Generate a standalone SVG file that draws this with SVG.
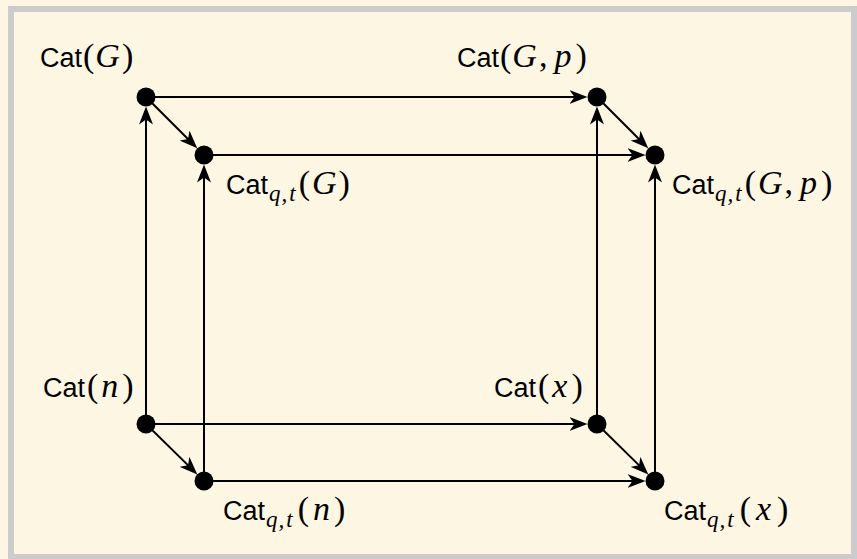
<svg xmlns="http://www.w3.org/2000/svg" width="857" height="559" viewBox="0 0 857 559">
  <style>
    .edge { stroke: #000; stroke-width: 2; fill: none; marker-end: url(#arr); }
    .dot { fill: #000; }
    .lbl { fill: #000; }
    .sf { font-family: "Liberation Sans", Arial, sans-serif; font-size: 27px; }
    .m { font-family: "Liberation Serif", "Times New Roman", serif; font-size: 34px; }
    .mi { font-family: "Liberation Serif", "Times New Roman", serif; font-size: 34px; font-style: italic; }
    .sub { font-family: "Liberation Serif", "Times New Roman", serif; font-size: 23px; font-style: italic; }
  </style>
  <defs>
    <marker id="arr" viewBox="-18 -7 18 14" refX="-10" refY="0" markerWidth="18" markerHeight="14" markerUnits="userSpaceOnUse" orient="auto">
      <path d="M0,0 L-18,-7 L-13,0 L-18,7 Z" fill="#000"/>
    </marker>
  </defs>
  <rect x="0" y="0" width="857" height="559" fill="#fdf6e3"/>
  <rect x="11" y="9" width="843" height="548" fill="#fdf6e3" stroke="#cccccc" stroke-width="6"/>

  <g id="connectors">
    <line class="edge" x1="146" y1="97" x2="577.5" y2="97"/>
    <line class="edge" x1="204" y1="155" x2="635.5" y2="155"/>
    <line class="edge" x1="146" y1="424" x2="577.5" y2="424"/>
    <line class="edge" x1="204" y1="481" x2="635.5" y2="481"/>
    <line class="edge" x1="146" y1="424" x2="146" y2="116.5"/>
    <line class="edge" x1="204" y1="481" x2="204" y2="174.5"/>
    <line class="edge" x1="597" y1="424" x2="597" y2="116.5"/>
    <line class="edge" x1="655" y1="481" x2="655" y2="174.5"/>
    <line class="edge" x1="146" y1="97" x2="190.2" y2="141.2"/>
    <line class="edge" x1="597" y1="97" x2="641.2" y2="141.2"/>
    <line class="edge" x1="146" y1="424" x2="190.2" y2="467.4"/>
    <line class="edge" x1="597" y1="424" x2="641.2" y2="467.4"/>
  </g>

  <g id="catG">
    <circle class="dot" cx="146" cy="97" r="9.5"/>
    <text class="lbl" x="40" y="67"><tspan class="sf">Cat</tspan><tspan class="m" dx="1">(</tspan><tspan class="mi" dx="1">G</tspan><tspan class="m" dx="2">)</tspan></text>
  </g>
  <g id="catGp">
    <circle class="dot" cx="597" cy="97" r="9.5"/>
    <text class="lbl" x="457" y="67"><tspan class="sf">Cat</tspan><tspan class="m" dx="1">(</tspan><tspan class="mi" dx="1">G</tspan><tspan class="m" dx="2">,</tspan><tspan class="mi" dx="7">p</tspan><tspan class="m" dx="4">)</tspan></text>
  </g>
  <g id="catqtG">
    <circle class="dot" cx="204" cy="155" r="9.5"/>
    <text class="lbl" x="226" y="194"><tspan class="sf">Cat</tspan><tspan class="sub" dx="1" dy="7">q</tspan><tspan class="sub" dx="1">,</tspan><tspan class="sub" dx="2">t</tspan><tspan class="m" dx="3" dy="-7">(</tspan><tspan class="mi" dx="2">G</tspan><tspan class="m" dx="2">)</tspan></text>
  </g>
  <g id="catqtGp">
    <circle class="dot" cx="655" cy="155" r="9.5"/>
    <text class="lbl" x="672" y="194"><tspan class="sf">Cat</tspan><tspan class="sub" dx="1" dy="7">q</tspan><tspan class="sub" dx="1">,</tspan><tspan class="sub" dx="2">t</tspan><tspan class="m" dx="3" dy="-7">(</tspan><tspan class="mi" dx="2">G</tspan><tspan class="m" dx="2">,</tspan><tspan class="mi" dx="7">p</tspan><tspan class="m" dx="4">)</tspan></text>
  </g>
  <g id="catn">
    <circle class="dot" cx="146" cy="424" r="9.5"/>
    <text class="lbl" x="43" y="397"><tspan class="sf">Cat</tspan><tspan class="m" dx="2">(</tspan><tspan class="mi" dx="3">n</tspan><tspan class="m" dx="4">)</tspan></text>
  </g>
  <g id="catx">
    <circle class="dot" cx="597" cy="424" r="9.5"/>
    <text class="lbl" x="494" y="397"><tspan class="sf">Cat</tspan><tspan class="m" dx="2">(</tspan><tspan class="mi" dx="3">x</tspan><tspan class="m" dx="4">)</tspan></text>
  </g>
  <g id="catqtn">
    <circle class="dot" cx="204" cy="481" r="9.5"/>
    <text class="lbl" x="223" y="520"><tspan class="sf">Cat</tspan><tspan class="sub" dx="1" dy="7">q</tspan><tspan class="sub" dx="1">,</tspan><tspan class="sub" dx="2">t</tspan><tspan class="m" dx="5" dy="-7">(</tspan><tspan class="mi" dx="4">n</tspan><tspan class="m" dx="4">)</tspan></text>
  </g>
  <g id="catqtx">
    <circle class="dot" cx="655" cy="481" r="9.5"/>
    <text class="lbl" x="664" y="520"><tspan class="sf">Cat</tspan><tspan class="sub" dx="1" dy="7">q</tspan><tspan class="sub" dx="1">,</tspan><tspan class="sub" dx="2">t</tspan><tspan class="m" dx="6" dy="-7">(</tspan><tspan class="mi" dx="5">x</tspan><tspan class="m" dx="6">)</tspan></text>
  </g>
</svg>
